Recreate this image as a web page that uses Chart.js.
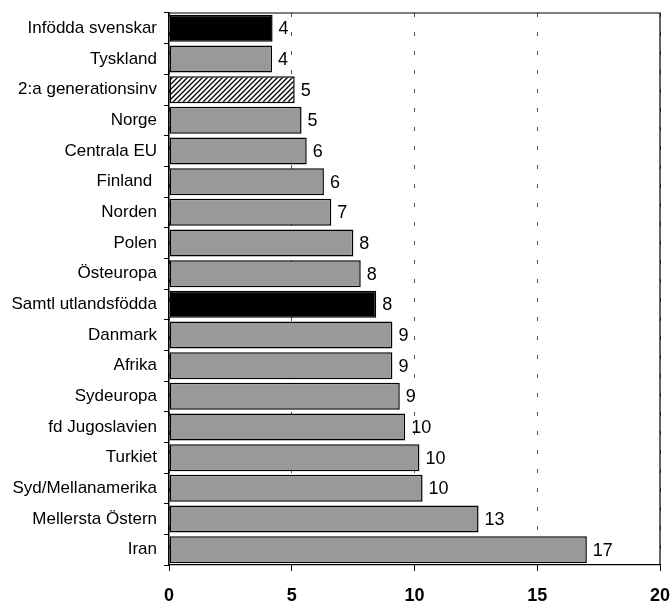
<!DOCTYPE html>
<html>
<head>
<meta charset="utf-8">
<script src="https://cdn.jsdelivr.net/npm/chart.js@4/dist/chart.umd.min.js"></script>
<style>
  html, body { margin: 0; padding: 0; background: #fff; }
  #wrap { width: 671px; height: 603px; }
</style>
</head>
<body>
<div id="wrap"><canvas id="chart" width="671" height="603"></canvas></div>
<script>
// categories, top to bottom
const categories = [
    'Infödda svenskar', 'Tyskland', '2:a generationsinv', 'Norge', 'Centrala EU',
    'Finland ', 'Norden', 'Polen', 'Östeuropa', 'Samtl utlandsfödda', 'Danmark',
    'Afrika', 'Sydeuropa', 'fd Jugoslavien', 'Turkiet', 'Syd/Mellanamerika',
    'Mellersta Östern', 'Iran'
];
const values = [
    4.22, 4.2, 5.12, 5.4, 5.61,
    6.31, 6.61, 7.51, 7.81, 8.44, 9.1,
    9.1, 9.4, 9.62, 10.2, 10.33,
    12.61, 17.02
];
const xTicks = [0, 5, 10, 15, 20];

// which bars get a special fill
const blackBars = ['Infödda svenskar', 'Samtl utlandsfödda'];
const hatchedBars = ['2:a generationsinv'];

function makeHatch() {
    const c = document.createElement('canvas');
    c.width = 5; c.height = 5;
    const g = c.getContext('2d');
    g.fillStyle = '#fff';
    g.fillRect(0, 0, 5, 5);
    g.strokeStyle = '#000';
    g.lineWidth = 1.3;
    g.beginPath();
    g.moveTo(-1, 6); g.lineTo(6, -1);
    g.moveTo(-1, 1); g.lineTo(1, -1);
    g.moveTo(4, 6); g.lineTo(6, 4);
    g.stroke();
    return g.createPattern(c, 'repeat');
}
const hatch = makeHatch();

const barColors = categories.map(c => {
    if (blackBars.includes(c)) return '#000000';
    if (hatchedBars.includes(c)) return hatch;
    return '#999999';
});

// frame around plot (top + right edges)
const framePlugin = {
    id: 'frame',
    afterDraw(chart) {
        const a = chart.chartArea, ctx = chart.ctx;
        ctx.save();
        ctx.strokeStyle = '#000';
        ctx.lineWidth = 1.2;
        ctx.beginPath();
        ctx.moveTo(a.left, a.top);
        ctx.lineTo(a.right, a.top);
        ctx.lineTo(a.right, a.bottom);
        ctx.stroke();
        ctx.restore();
    }
};

// value labels right of each bar
const valueLabels = {
    id: 'valueLabels',
    afterDatasetsDraw(chart) {
        const ctx = chart.ctx;
        const meta = chart.getDatasetMeta(0);
        ctx.save();
        ctx.font = '18px "Liberation Sans", Arial, sans-serif';
        ctx.fillStyle = '#000';
        ctx.textAlign = 'left';
        ctx.textBaseline = 'middle';
        meta.data.forEach((bar, i) => {
            ctx.fillText(String(Math.round(values[i])), bar.x + 6, bar.y + 1);
        });
        ctx.restore();
    }
};

new Chart(document.getElementById('chart'), {
    type: 'bar',
    data: {
        labels: categories,
        datasets: [{
            data: values,
            backgroundColor: barColors,
            borderColor: '#000',
            borderWidth: 1.5,
            borderSkipped: false,
            barPercentage: 0.88,
            categoryPercentage: 1
        }]
    },
    options: {
        indexAxis: 'y',
        responsive: false,
        animation: false,
        layout: { padding: { top: 13, right: 11, left: 0, bottom: 0 } },
        plugins: { legend: { display: false }, tooltip: { enabled: false } },
        scales: {
            x: {
                min: xTicks[0],
                max: xTicks[xTicks.length - 1],
                afterBuildTicks: s => { s.ticks = xTicks.map(v => ({ value: v })); },
                afterFit: s => {
                    s.height = 38;
                    s.paddingLeft = 0;
                    s.paddingRight = 0;
                },
                grid: {
                    color: '#555',
                    lineWidth: 1,
                    tickLength: 6,
                    tickColor: '#000',
                    tickBorderDash: []
                },
                border: { display: true, color: '#000', width: 1.2, dash: [4, 15] },
                ticks: {
                    color: '#000',
                    padding: 14,
                    font: { family: '"Liberation Sans", Arial, sans-serif', size: 18, weight: 'bold' }
                }
            },
            y: {
                afterFit: s => {
                    s.width = 169;
                    s.paddingTop = 0;
                    s.paddingBottom = 0;
                },
                grid: {
                    drawOnChartArea: false,
                    tickLength: 5,
                    tickColor: '#000',
                    offset: true
                },
                border: { display: true, color: '#000', width: 1.5 },
                ticks: {
                    color: '#000',
                    padding: 7,
                    font: { family: '"Liberation Sans", Arial, sans-serif', size: 17 }
                }
            }
        }
    },
    plugins: [framePlugin, valueLabels]
});
</script>
</body>
</html>
